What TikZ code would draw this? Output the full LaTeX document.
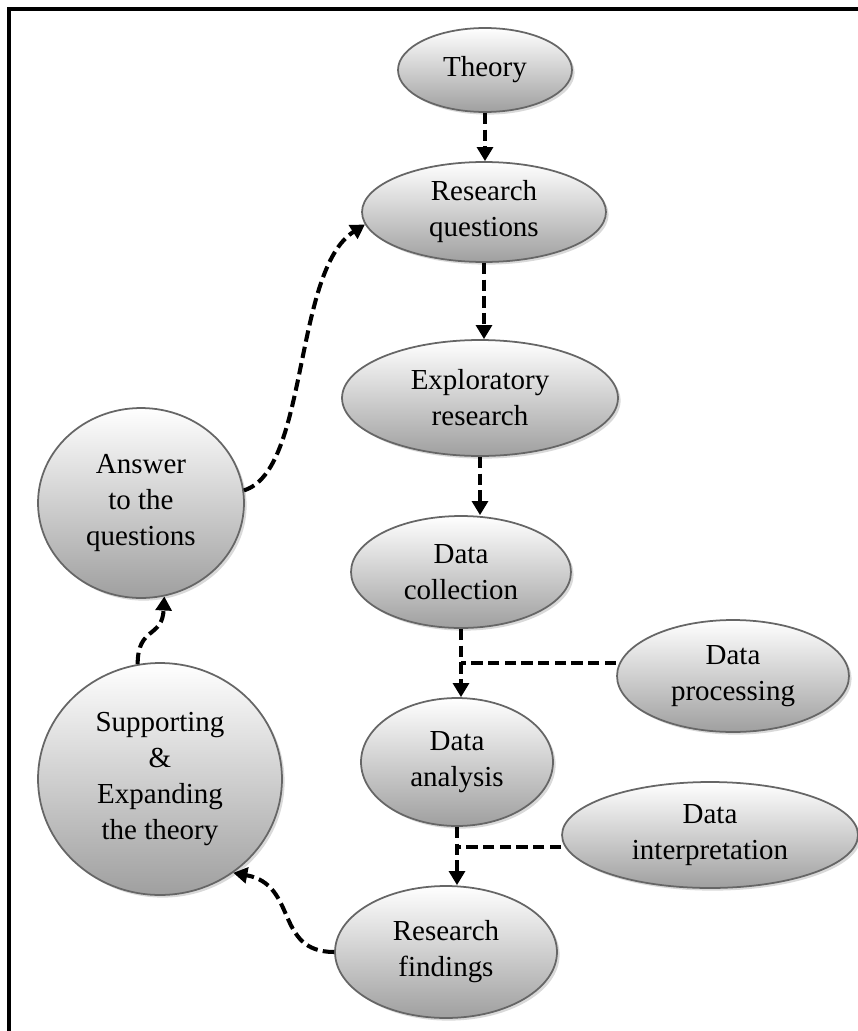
\documentclass[tikz,border=0pt]{standalone}
\usepackage{fontspec}
\setmainfont{Liberation Serif}
\usetikzlibrary{shapes.geometric,arrows.meta,shadows,calc}

\begin{document}
\begin{tikzpicture}[x=0.02cm,y=-0.02cm,
    blob/.style={ellipse,draw=black!60,line width=1pt,top color=white,bottom color=gray!75,
      drop shadow={shadow xshift=1.5pt,shadow yshift=-1.5pt,opacity=0.3},
      align=center,inner sep=0pt,font=\fontsize{16.5}{20.5}\selectfont},
    dashln/.style={dash pattern=on 6.5pt off 3pt,line width=2.3pt},
    dasharr/.style={dashln,-{Triangle[length=8pt,width=9pt]}}]
  \useasboundingbox (0,0) rectangle (858,1031);
  \draw[line width=2pt] (9,9) rectangle (880,1060);

  \node[blob,minimum width=3.48cm,minimum height=1.68cm] (theory) at (485,70) {Theory};
  \node[blob,minimum width=4.88cm,minimum height=2.0cm] (rq) at (484,212) {Research\\questions};
  \node[blob,minimum width=5.52cm,minimum height=2.32cm] (expl) at (480,398) {Exploratory\\research};
  \node[blob,minimum width=4.4cm,minimum height=2.24cm] (coll) at (461,572) {Data\\collection};
  \node[blob,minimum width=4.64cm,minimum height=2.24cm] (proc) at (733,676) {Data\\processing};
  \node[blob,minimum width=3.84cm,minimum height=2.56cm] (ana) at (457,762) {Data\\analysis};
  \node[blob,minimum width=5.92cm,minimum height=2.12cm] (interp) at (710,835) {Data\\interpretation};
  \node[blob,minimum width=4.44cm,minimum height=2.64cm] (find) at (446,952) {Research\\findings};
  \node[blob,minimum width=4.12cm,minimum height=3.8cm] (ans) at (141,503) {Answer\\to the\\questions};
  \node[blob,minimum width=4.88cm,minimum height=4.64cm] (supp) at (160,779) {Supporting\\\&\\Expanding\\the theory};

  \coordinate (j1) at ($(coll.south)!0.5!(coll.south |- ana.north)$);
  \coordinate (j2) at ($(ana.south)!0.35!(ana.south |- find.north)$);

  \draw[dasharr] (theory.south) -- (theory.south |- rq.north);
  \draw[dasharr] (rq.south) -- (rq.south |- expl.north);
  \draw[dasharr] (expl.south) -- (expl.south |- coll.north);
  \draw[dasharr] (coll.south) -- (coll.south |- ana.north);
  \draw[dashln] (proc.west |- j1) -- (j1);
  \draw[dasharr] (ana.south) -- (ana.south |- find.north);
  \draw[dashln] (interp.west |- j2) -- (j2);
  \draw[dasharr] (find.west) .. controls +(-60,0) and +(65,12) .. (supp.-52);
  \draw[dasharr] (supp.101) .. controls +(0,-38) and +(-2,42) .. (ans.-76);
  \draw[dasharr] (ans.7) .. controls +(65,-20) and +(-72,46) .. (rq.186);
\end{tikzpicture}
\end{document}
